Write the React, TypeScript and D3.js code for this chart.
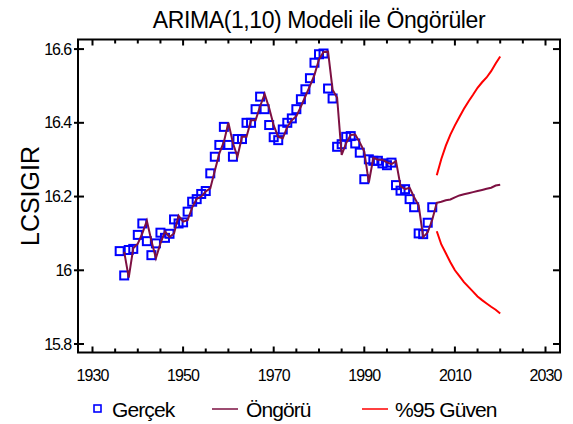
import { useEffect, useRef } from "react";
import * as d3 from "d3";

// actual series (Gerçek), yearly from 1936
const actualStart = 1936;
const actualValues = [
    16.052, 15.986, 16.055, 16.058, 16.096, 16.127, 16.079, 16.041, 16.073, 16.102,
    16.088, 16.099, 16.138, 16.127, 16.130, 16.159, 16.186, 16.193, 16.207, 16.215,
    16.263, 16.308, 16.340, 16.389, 16.340, 16.308, 16.356, 16.356, 16.400, 16.400,
    16.437, 16.471, 16.437, 16.394, 16.361, 16.353, 16.382, 16.400, 16.412, 16.437,
    16.464, 16.491, 16.521, 16.563, 16.586, 16.588, 16.493, 16.466, 16.335, 16.342,
    16.362, 16.364, 16.344, 16.319, 16.247, 16.301, 16.297, 16.297, 16.290, 16.285,
    16.292, 16.231, 16.216, 16.220, 16.193, 16.171, 16.100, 16.098, 16.129, 16.171,
];

// one-step predictions (Öngörü), yearly from 1937, then forecasts to 2020
const predStart = 1937;
const predValues = [
    16.050, 15.980, 16.060, 16.072, 16.100, 16.134, 16.080, 16.033, 16.073, 16.105,
    16.090, 16.100, 16.148, 16.132, 16.136, 16.170, 16.194, 16.200, 16.214, 16.222,
    16.270, 16.317, 16.348, 16.400, 16.345, 16.308, 16.362, 16.362, 16.407, 16.407,
    16.445, 16.478, 16.440, 16.393, 16.362, 16.358, 16.389, 16.407, 16.418, 16.444,
    16.472, 16.500, 16.530, 16.572, 16.592, 16.593, 16.490, 16.468, 16.313, 16.345,
    16.367, 16.368, 16.347, 16.322, 16.238, 16.305, 16.300, 16.300, 16.293, 16.288,
    16.296, 16.228, 16.220, 16.224, 16.198, 16.176, 16.090, 16.103, 16.137,
    16.183, 16.186, 16.190, 16.192, 16.198, 16.203, 16.206, 16.209, 16.212, 16.215,
    16.218, 16.221, 16.224, 16.230, 16.232,
];

// 95% limits, 2006-2020
const ciStart = 2006;
const upperValues = [
    16.258, 16.302, 16.338, 16.368, 16.393, 16.416, 16.438, 16.458, 16.476, 16.495,
    16.510, 16.523, 16.540, 16.561, 16.580,
];
const lowerValues = [
    16.106, 16.070, 16.046, 16.022, 16.000, 15.984, 15.968, 15.955, 15.942, 15.929,
    15.919, 15.910, 15.901, 15.893, 15.883,
];

const xTickLabels = [1930, 1950, 1970, 1990, 2010, 2030];
const yTickLabels = [15.8, 16.0, 16.2, 16.4, 16.6];

const W = 573;
const H = 424;
const FONT = "'Liberation Sans', Arial, sans-serif";

const App: React.FC = () => {
    const svgRef = useRef<SVGSVGElement | null>(null);

    useEffect(() => {
        if (!svgRef.current) return;
        const svg = d3.select(svgRef.current);
        svg.selectAll("*").remove();

        const left = 78, right = 560, top = 39.5, bottom = 352.5;
        const x = d3.scaleLinear().domain([1926.8, 2033.2]).range([left, right]);
        const y = d3.scaleLinear().domain([15.777, 16.626]).range([bottom, top]);

        const actual = actualValues.map((v, i) => ({ t: actualStart + i, v }));
        const pred = predValues.map((v, i) => ({ t: predStart + i, v }));
        const upper = upperValues.map((v, i) => ({ t: ciStart + i, v }));
        const lower = lowerValues.map((v, i) => ({ t: ciStart + i, v }));

        // title
        svg.append("text")
            .attr("x", 319).attr("y", 28)
            .attr("text-anchor", "middle")
            .attr("font-family", FONT).attr("font-size", 23)
            .attr("letter-spacing", -0.4)
            .text("ARIMA(1,10) Modeli ile Öngörüler");

        // y title
        svg.append("text")
            .attr("transform", `translate(39,${(top + bottom) / 2}) rotate(-90)`)
            .attr("text-anchor", "middle")
            .attr("font-family", FONT).attr("font-size", 25)
            .text("LCSIGIR");

        const line = d3.line<{ t: number; v: number }>().x(d => x(d.t)).y(d => y(d.v));

        // confidence limits
        [upper, lower].forEach(s => {
            svg.append("path").datum(s)
                .attr("d", line)
                .attr("fill", "none")
                .attr("stroke", "#ff0000")
                .attr("stroke-width", 2);
        });

        // squares for the actual values
        const sq = 8;
        svg.append("g").selectAll("rect")
            .data(actual)
            .enter()
            .append("rect")
            .attr("x", d => x(d.t) - sq / 2)
            .attr("y", d => y(d.v) - sq / 2)
            .attr("width", sq).attr("height", sq)
            .attr("fill", "none")
            .attr("stroke", "#0000ff")
            .attr("stroke-width", 2);

        // prediction line
        svg.append("path").datum(pred)
            .attr("d", line)
            .attr("fill", "none")
            .attr("stroke", "#7d1042")
            .attr("stroke-width", 2);

        // frame
        svg.append("rect")
            .attr("x", left).attr("y", top)
            .attr("width", right - left).attr("height", bottom - top)
            .attr("fill", "none").attr("stroke", "#000").attr("stroke-width", 2);

        const ticks = svg.append("g").attr("stroke", "#000").attr("stroke-width", 2);
        d3.range(1930, 2031, 5).forEach(t => {
            const len = t % 20 === 10 ? 6 : 4;
            ticks.append("line").attr("x1", x(t)).attr("x2", x(t)).attr("y1", bottom).attr("y2", bottom - len);
            ticks.append("line").attr("x1", x(t)).attr("x2", x(t)).attr("y1", top).attr("y2", top + len);
        });
        yTickLabels.forEach(v => {
            ticks.append("line").attr("x1", left - 4).attr("x2", left + 6).attr("y1", y(v)).attr("y2", y(v));
            ticks.append("line").attr("x1", right - 7).attr("x2", right).attr("y1", y(v)).attr("y2", y(v));
        });

        // tick labels
        svg.append("g").selectAll("text")
            .data(xTickLabels)
            .enter()
            .append("text")
            .attr("x", d => x(d)).attr("y", 381)
            .attr("text-anchor", "middle")
            .attr("font-family", FONT).attr("font-size", 16)
            .attr("letter-spacing", -0.9)
            .text(d => d);

        svg.append("g").selectAll("text")
            .data(yTickLabels)
            .enter()
            .append("text")
            .attr("x", 71).attr("y", d => y(d) + 5.5)
            .attr("text-anchor", "end")
            .attr("font-family", FONT).attr("font-size", 16)
            .attr("letter-spacing", -1.1)
            .text(d => (d === 16 ? "16" : d.toFixed(1)));

        // legend
        const ly = 409;
        const legend = svg.append("g").attr("font-family", FONT).attr("font-size", 21).attr("letter-spacing", -0.9);
        legend.append("rect").attr("x", 94).attr("y", ly - 4).attr("width", 7).attr("height", 7)
            .attr("fill", "none").attr("stroke", "#0000ff").attr("stroke-width", 1.6);
        legend.append("text").attr("x", 112).attr("y", ly + 8).text("Gerçek");
        legend.append("line").attr("x1", 212).attr("x2", 238).attr("y1", ly).attr("y2", ly)
            .attr("stroke", "#7d1042").attr("stroke-width", 1.5);
        legend.append("text").attr("x", 246).attr("y", ly + 8).text("Öngörü");
        legend.append("line").attr("x1", 362).attr("x2", 388).attr("y1", ly).attr("y2", ly)
            .attr("stroke", "#ff0000").attr("stroke-width", 1.5);
        legend.append("text").attr("x", 395).attr("y", ly + 8).text("%95 Güven");
    }, []);

    return (
        <svg ref={svgRef} width={W} height={H}
            style={{ position: "absolute", left: 0, top: 0, background: "#fff" }} />
    );
};

export default App;
